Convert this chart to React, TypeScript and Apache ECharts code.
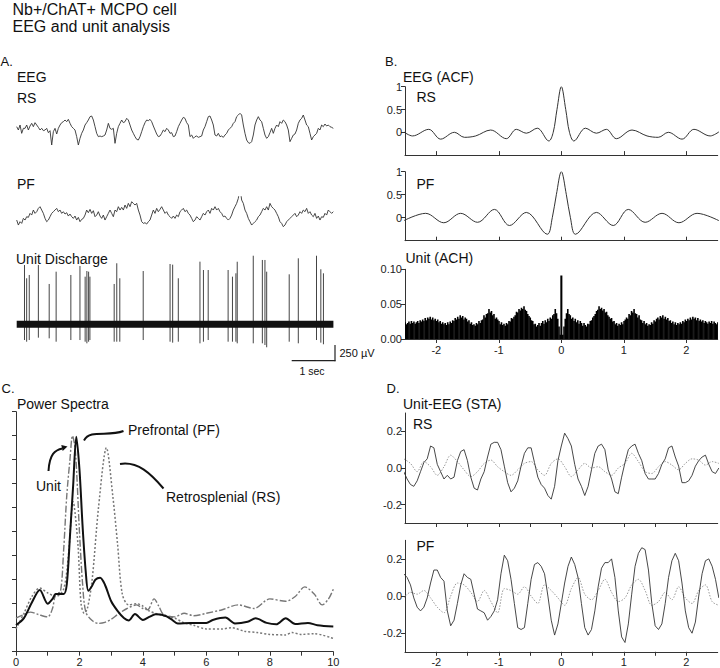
import React, { useEffect, useRef } from "react";
import * as echarts from "echarts";

const FONT = "'Liberation Sans', Arial, sans-serif";

// ---------- Panel A : raw traces ----------
const eegDt = 1 / 26; // seconds per sample
const eegRs = [
  10, 0, 15, -10, 5, 5, 15, 0, 12, 20,
  10, 22, 15, 8, 0, 5, -2, 0, 5, -8,
  -2, -45, -5, 5, -12, 5, 15, 22, 25, 30,
  25, 32, 20, 10, 5, 0, -20, -45, -25, -10,
  0, 15, 22, 30, 40, 42, 30, 10, -10, -20,
  -18, -20, -18, -15, 0, 20, 5, 2, 5, -40,
  -10, 10, 20, 30, 22, 25, 35, 30, 15, 0,
  -10, -20, -28, -30, -20, -5, 10, 22, 30, 28,
  32, 25, 12, 0, -12, -20, -18, -10, 0, -5,
  5, 0, -10, -8, -20, -18, -5, 10, 20, 30,
  38, 35, 22, 15, -20, -15, -25, -20, -18, -22,
  -20, -18, 0, 10, 25, 40, 42, 30, 15, -15,
  -18, -10, -20, -18, -22, -15, -10, 0, 5, 10,
  20, 25, 40, 45, 50, 45, 15, -10, -30, -38,
  -40, -35, -15, 15, 30, 40, 30, 25, 5, -15,
  -25, -20, -8, 5, -10, 5, 15, 10, 25, 20,
  30, 25, 15, 0, -35, -25, -15, -12, 0, 20,
  30, 35, 45, 30, 15, 10, -10, -30, -20, -15,
  -10, 5, 0, 15, 10, 18, 12, 15, 10, 8,
  5,
];
const eegPf = [
  -10, -25, -15, -20, -5, -10, 0, -2, 10, 5,
  20, 10, 15, 25, 30, 20, 10, -5, -15, -10,
  0, 10, 15, 20, 25, 15, 20, 10, 15, 8,
  12, 2, 8, 0, -5, 2, -10, -2, -15, -8,
  -5, 5, 20, 12, 22, 10, 18, 0, 5, 15,
  2, -5, 5, -10, 0, 10, 20, 10, 0, 20,
  15, 30, 20, 28, 20, 35, 25, 40, 30, 45,
  40, 35, 40, 20, 5, -15, -20, -18, -22, -15,
  -10, 5, 20, 10, 25, 15, 22, 30, 20, 10,
  15, 5, 0, -5, 2, -5, 5, 0, 15, 20,
  25, 15, 20, 10, 5, -5, -15, -10, 0, -5,
  -10, 0, 10, 5, 15, 20, 10, 25, 20, 30,
  20, 25, 15, 10, 0, 2, -5, -10, -5, 5,
  20, 30, 40, 55, 88, 50, 40, 20, 10, -5,
  -15, -25, -20, -15, -10, 0, 5, 15, 25, 20,
  30, 20, 40, 30, 25, 20, 10, 0, -15, -20,
  -30, -25, -15, -10, -5, 0, 5, 10, 0, 5,
  15, 10, 20, 15, 25, 10, 15, 5, 0, 10,
  -5, 2, -10, 0, -2, 10, 5, 20, 15, 10,
  15,
];
const spikeTimes = [0.18, 0.23, 0.29, 0.5, 0.75, 0.91, 1.25, 1.46, 1.58, 1.62, 1.66, 1.69, 2.25, 2.31, 2.38, 2.92, 3.54, 3.6, 3.73, 4.23, 4.31, 4.42, 4.88, 4.98, 5.06, 5.09, 5.46, 5.67, 5.73, 5.77, 6.29, 6.5, 6.92, 7.02, 7.08];
const spikePeaks = [988, 767, 822, 988, 672, 877, 822, 972, 794, 888, 877, 794, 672, 1017, 767, 888, 1005, 994, 767, 1044, 905, 905, 905, 794, 850, 1043, 1143, 1072, 1072, 877, 833, 1100, 1143, 917, 850];
const spikeTroughs = [-262, -290, -262, -223, -234, -290, -262, -262, -290, -317, -290, -262, -290, -290, -290, -262, -290, -306, -290, -317, -290, -262, -290, -290, -290, -317, -317, -317, -345, -383, -290, -317, -262, -306, -333];
const unitTraceEnds = [0, 7.31];

// ---------- Panel B : ACF / ACH ----------
const acfRsLags = [0, 0.07, 0.13, 0.2, 0.385, 0.56, 0.72, 0.88, 1.13, 1.37, 1.55, 1.71, 1.93, 2.12, 2.38, 2.52];
const acfRsVals = [1, 0.5, 0, -0.19, 0.09, -0.02, 0.065, -0.14, 0.05, -0.08, -0.11, 0, -0.15, 0.065, -0.08, 0.01];
const acfPfLags = [0, 0.08, 0.145, 0.225, 0.56, 0.83, 1.07, 1.34, 1.61, 1.88, 2.17, 2.52];
const acfPfVals = [1, 0.5, 0, -0.36, 0.115, -0.17, 0.18, -0.1, 0.095, -0.11, 0.095, -0.065];
const achBin = 0.02;
const achCenter = 0.091;
const achRight = [
  0.006, 0.018, 0.029, 0.037, 0.043, 0.036, 0.034, 0.029, 0.031, 0.026,
  0.029, 0.024, 0.027, 0.022, 0.026, 0.023, 0.019, 0.023, 0.02, 0.018,
  0.022, 0.021, 0.026, 0.027, 0.031, 0.033, 0.036, 0.04, 0.042, 0.047,
  0.043, 0.045, 0.041, 0.043, 0.038, 0.039, 0.034, 0.032, 0.029, 0.03,
  0.025, 0.026, 0.021, 0.023, 0.019, 0.022, 0.02, 0.024, 0.021, 0.026,
  0.028, 0.031, 0.029, 0.036, 0.034, 0.04, 0.038, 0.043, 0.037, 0.036,
  0.031, 0.034, 0.028, 0.027, 0.023, 0.026, 0.021, 0.023, 0.019, 0.021,
  0.02, 0.024, 0.022, 0.027, 0.025, 0.029, 0.031, 0.028, 0.033, 0.031,
  0.034, 0.029, 0.032, 0.028, 0.03, 0.026, 0.027, 0.023, 0.025, 0.021,
  0.024, 0.02, 0.023, 0.021, 0.024, 0.022, 0.026, 0.024, 0.028, 0.026,
  0.029, 0.027, 0.031, 0.028, 0.032, 0.029, 0.031, 0.027, 0.03, 0.026,
  0.028, 0.025, 0.027, 0.023, 0.026, 0.024, 0.022, 0.025, 0.023, 0.026,
  0.022, 0.025, 0.023, 0.021, 0.024,
];

// ---------- Panel C : power spectra ----------
const psPfFreq = [0, 0.25, 0.5, 0.75, 1.0, 1.15, 1.25, 1.5, 1.6, 1.7, 1.8, 1.9, 2.0, 2.1, 2.2, 2.28, 2.4, 2.5, 2.65, 2.8, 3.0, 3.2, 3.4, 3.55, 3.75, 4.0, 4.2, 4.4, 4.7, 4.9, 5.1, 5.5, 6.0, 6.2, 6.6, 6.9, 7.3, 7.55, 7.9, 8.2, 8.5, 8.8, 9.2, 9.5, 10];
const psPfVal = [1.11, 1.4, 2.05, 2.57, 2.0, 2.2, 2.4, 2.4, 2.8, 4.8, 6.9, 8.96, 7.6, 5.2, 3.3, 2.54, 2.75, 3.0, 3.08, 2.8, 2.1, 1.7, 1.4, 1.3, 1.57, 1.32, 1.45, 1.56, 1.5, 1.35, 1.18, 1.2, 1.2, 1.32, 1.42, 1.18, 1.25, 1.39, 1.2, 1.14, 1.39, 1.15, 1.2, 1.1, 1.05];
const psRsFreq = [0, 0.25, 0.5, 0.75, 1.0, 1.25, 1.5, 1.65, 1.8, 1.95, 2.05, 2.15, 2.25, 2.4, 2.6, 2.85, 3.05, 3.2, 3.35, 3.55, 3.8, 4.0, 4.2, 4.5, 4.8, 5.0, 5.3, 5.6, 6.0, 6.5, 6.8, 7.2, 7.6, 8.0, 8.5, 8.7, 9.0, 9.4, 10];
const psRsVal = [0.95, 1.6, 2.3, 2.65, 2.45, 2.3, 2.6, 4.0, 6.25, 4.5, 2.0, 1.6, 1.8, 3.0, 6.0, 8.5, 6.5, 4.5, 2.4, 1.95, 2.0, 1.9, 1.7, 1.55, 1.45, 1.4, 1.2, 1.1, 0.95, 0.95, 1.0, 0.85, 0.8, 0.72, 0.7, 0.8, 0.72, 0.75, 0.55];
const psUnitFreq = [0, 0.25, 0.45, 0.7, 1.0, 1.15, 1.25, 1.4, 1.5, 1.6, 1.7, 1.78, 1.87, 2.0, 2.1, 2.2, 2.4, 2.6, 2.8, 3.0, 3.2, 3.5, 3.8, 4.0, 4.15, 4.35, 4.5, 4.65, 5.0, 5.3, 5.6, 6.0, 6.5, 7.0, 7.5, 8.0, 8.5, 8.8, 9.1, 9.4, 9.65, 9.85, 10];
const psUnitVal = [1.4, 1.55, 1.65, 1.55, 1.45, 1.8, 2.4, 2.5, 4.2, 6.5, 8.0, 9.0, 8.4, 5.0, 2.8, 1.65, 1.3, 1.18, 1.22, 1.35, 1.55, 1.8, 1.95, 1.8, 1.75, 2.2, 1.9, 1.55, 1.45, 1.6, 1.5, 1.6, 1.75, 1.95, 1.8, 2.2, 2.1, 2.3, 2.7, 2.4, 1.95, 2.2, 2.6];

// ---------- Panel D : spike-triggered averages ----------
const staStart = -2.52;
const staStep = 0.0536;
const staRsUnit = [
  -0.02, -0.06, -0.09, -0.1, -0.07, -0.02, 0.03, 0.05, 0.12, 0.11,
  0.02, -0.02, -0.06, -0.04, -0.06, -0.05, 0.04, 0.09, 0.1, 0.04,
  -0.05, -0.11, -0.12, -0.06, -0.02, 0.06, 0.13, 0.14, 0.14, 0.1,
  0.01, -0.08, -0.13, -0.11, -0.07, 0.01, 0.08, 0.11, 0.11, 0.03,
  -0.05, -0.09, -0.11, -0.15, -0.17, -0.1, 0.04, 0.12, 0.19, 0.16,
  0.12, 0.02, -0.06, -0.1, -0.15, -0.1, -0.01, 0.08, 0.12, 0.13,
  0.1, -0.01, -0.06, -0.13, -0.14, -0.05, 0.03, 0.1, 0.12, 0.13,
  0.08, 0.04, -0.03, -0.06, -0.06, -0.06, -0.03, 0.02, 0.05, 0.11,
  0.12, 0.06, 0.01, -0.08, -0.08, -0.07, -0.04, 0.01, 0.04, 0.06,
  0.07, 0.02, -0.02, -0.03, 0.0,
];
const staRsCtrl = [0.05, 0.025, -0.02, 0.035, 0.007, -0.04, 0.007, 0.07, 0.035, -0.01, -0.047, -0.02, 0.025, 0.043, 0.007, -0.02, -0.04, -0.01, 0.025, 0.035, -0.01, -0.04, 0.025, 0.05, 0.007, -0.047, -0.01, 0.025, 0, 0.007, -0.02, -0.04, 0, 0.025, 0.08, 0.035, -0.02, -0.03, 0.007, 0.035, 0.016, -0.01, 0.025, 0.05, 0.043, 0.016, 0.035, 0.025];
const staPfUnit = [
  0.12, 0.1, 0.06, -0.01, -0.06, -0.08, -0.06, -0.01, 0.07, 0.14,
  0.14, 0.1, 0.08, -0.08, -0.16, -0.13, -0.04, 0.06, 0.12, 0.1,
  0.09, 0.01, -0.07, -0.08, -0.09, -0.13, -0.11, -0.08, -0.02, 0.12,
  0.22, 0.19, 0.09, -0.04, -0.17, -0.18, -0.17, -0.04, 0.09, 0.17,
  0.18, 0.16, 0.12, 0.0, -0.13, -0.21, -0.15, -0.04, 0.07, 0.16,
  0.21, 0.17, 0.1, -0.04, -0.17, -0.21, -0.18, -0.08, 0.05, 0.15,
  0.18, 0.18, 0.2, 0.1, -0.08, -0.22, -0.25, -0.15, 0.01, 0.16,
  0.23, 0.26, 0.25, 0.14, -0.04, -0.16, -0.18, -0.15, -0.04, 0.1,
  0.19, 0.23, 0.19, 0.07, -0.08, -0.17, -0.2, -0.14, 0.0, 0.12,
  0.19, 0.2, 0.16, 0.09, -0.01,
];
const staPfCtrl = [-0.01, 0.02, 0.01, 0.03, -0.01, -0.06, -0.09, 0.0, 0.07, 0.06, 0.02, -0.03, 0.03, -0.03, -0.09, 0.04, 0.03, 0.01, 0.05, 0.0, -0.04, 0.06, 0.03, -0.01, -0.05, 0.04, 0.1, 0.01, -0.02, 0.03, 0.09, 0.02, -0.03, -0.01, 0.06, 0.09, 0.03, -0.05, -0.03, 0.02, -0.02, 0.05, -0.01, -0.04, 0.03, 0.06, -0.03, -0.05];

// ---------- helpers ----------
const mirror = (lags: number[], vals: number[]) => {
  const out: number[][] = [];
  for (let i = lags.length - 1; i > 0; i--) out.push([-lags[i], vals[i]]);
  for (let i = 0; i < lags.length; i++) out.push([lags[i], vals[i]]);
  return out;
};
const pairs = (xs: number[], ys: number[]) => xs.map((x, i) => [x, ys[i]]);
const regular = (start: number, step: number, ys: number[]) => ys.map((y, i) => [start + i * step, y]);

const AX = "#333";
const lbl = { fontFamily: FONT, fontSize: 11, color: "#222" };

const hiddenX = (g: number, min: number, max: number) => ({ gridIndex: g, type: "value", min, max, show: false });
const hiddenY = (g: number, min: number, max: number) => ({ gridIndex: g, type: "value", min, max, show: false });

const lagX = (g: number, ticks: number[], labels: number[] | null, inside: boolean) => ({
  gridIndex: g,
  type: "value",
  min: -2.5,
  max: 2.5,
  axisLine: { show: true, onZero: false, lineStyle: { color: AX, width: 1 } },
  axisTick: { show: true, inside, length: 4, customValues: ticks, lineStyle: { color: AX } },
  axisLabel: labels ? { ...lbl, customValues: labels, margin: 5, formatter: (v: number) => String(v) } : { show: false },
  splitLine: { show: false },
});
const valY = (g: number, min: number, max: number, ticks: number[], fmt: (v: number) => string) => ({
  gridIndex: g,
  type: "value",
  min,
  max,
  axisLine: { show: true, onZero: false, lineStyle: { color: AX, width: 1 } },
  axisTick: { show: true, length: 4, customValues: ticks, lineStyle: { color: AX } },
  axisLabel: { ...lbl, customValues: ticks, margin: 3, formatter: fmt },
  splitLine: { show: false },
});

const txt = (text: string, x: number, y: number, size = 14, align = "left") => ({
  type: "text",
  x,
  y,
  silent: true,
  style: { text, font: `${size}px ${FONT}`, fill: "#111", textAlign: align, textVerticalAlign: "middle" },
});

export default function App() {
  const ref = useRef<HTMLDivElement>(null);
  useEffect(() => {
    document.body.style.margin = "0";
    if (!ref.current) return;
    const chart = echarts.init(ref.current, null, { renderer: "svg" });

    const achData: number[][] = [];
    for (let k = achRight.length; k >= 1; k--) achData.push([-k * achBin, achRight[k - 1]]);
    achData.push([0, achCenter]);
    for (let k = 1; k <= achRight.length; k++) achData.push([k * achBin, achRight[k - 1]]);

    const halfTicks = [-2, -1.5, -1, -0.5, 0, 0.5, 1, 1.5, 2];
    const unitTicks = [-2, -1, 0, 1, 2];

    const option: any = {
      animation: false,
      grid: [
        { left: 16.7, top: 110, width: 316.7, height: 40 },
        { left: 16.7, top: 196.7, width: 316.7, height: 40 },
        { left: 16.7, top: 252.3, width: 316.7, height: 102 },
        { left: 405, top: 86.7, width: 312.7, height: 68.4 },
        { left: 405, top: 171.7, width: 312.7, height: 69 },
        { left: 405, top: 269.3, width: 312.7, height: 69.7 },
        { left: 16, top: 411.7, width: 317.3, height: 240 },
        { left: 405, top: 413, width: 312.7, height: 110 },
        { left: 405, top: 540.3, width: 312.7, height: 111.5 },
      ],
      xAxis: [
        hiddenX(0, 0, 7.31),
        hiddenX(1, 0, 7.31),
        hiddenX(2, 0, 7.31),
        lagX(3, unitTicks, null, true),
        lagX(4, unitTicks, null, true),
        lagX(5, unitTicks, unitTicks, false),
        {
          gridIndex: 6,
          type: "value",
          min: 0,
          max: 10,
          interval: 1,
          axisLine: { show: true, onZero: false, lineStyle: { color: AX, width: 1 } },
          axisTick: { show: true, length: 4, lineStyle: { color: AX } },
          axisLabel: { ...lbl, customValues: [0, 2, 4, 6, 8, 10], margin: 5 },
          splitLine: { show: false },
        },
        lagX(7, halfTicks, null, false),
        lagX(8, halfTicks, unitTicks, false),
      ],
      yAxis: [
        hiddenY(0, -60, 60),
        hiddenY(1, -60, 60),
        hiddenY(2, -500, 1200),
        valY(3, -0.5, 1, [0, 0.5, 1], (v) => String(v)),
        valY(4, -0.5, 1, [0, 0.5, 1], (v) => String(v)),
        valY(5, 0, 0.1, [0, 0.05, 0.1], (v) => v.toFixed(2)),
        {
          gridIndex: 6,
          type: "value",
          min: 0,
          max: 10,
          interval: 1,
          axisLine: { show: true, onZero: false, lineStyle: { color: AX, width: 1 } },
          axisTick: { show: true, length: 4, lineStyle: { color: AX } },
          axisLabel: { show: false },
          splitLine: { show: false },
        },
        valY(7, -0.3, 0.3, [-0.2, 0, 0.2], (v) => v.toFixed(1)),
        valY(8, -0.3, 0.3, [-0.2, 0, 0.2], (v) => v.toFixed(1)),
      ],
      series: [
        // Panel A
        {
          type: "line", xAxisIndex: 0, yAxisIndex: 0, silent: true, showSymbol: false,
          data: eegRs.map((v, i) => [i * eegDt, v]),
          lineStyle: { color: "#333", width: 0.9 },
        },
        {
          type: "line", xAxisIndex: 1, yAxisIndex: 1, silent: true, showSymbol: false,
          data: eegPf.map((v, i) => [i * eegDt, v]),
          lineStyle: { color: "#333", width: 0.9 },
        },
        {
          type: "line", xAxisIndex: 2, yAxisIndex: 2, silent: true, showSymbol: false,
          data: unitTraceEnds.map((t) => [t, 0]),
          lineStyle: { color: "#111", width: 7 },
        },
        {
          type: "custom", xAxisIndex: 2, yAxisIndex: 2, silent: true,
          coordinateSystem: "cartesian2d",
          encode: { x: 0, y: [1, 2] },
          data: spikeTimes.map((t, i) => [t, spikeTroughs[i], spikePeaks[i]]),
          renderItem: (_p: any, api: any) => {
            const a = api.coord([api.value(0), api.value(1)]);
            const b = api.coord([api.value(0), api.value(2)]);
            return { type: "line", shape: { x1: a[0], y1: a[1], x2: b[0], y2: b[1] }, style: { stroke: "#444", lineWidth: 1 } };
          },
        },
        // Panel B
        {
          type: "line", xAxisIndex: 3, yAxisIndex: 3, silent: true, showSymbol: false, smooth: 0.35,
          data: mirror(acfRsLags, acfRsVals),
          lineStyle: { color: "#333", width: 1 },
        },
        {
          type: "line", xAxisIndex: 4, yAxisIndex: 4, silent: true, showSymbol: false, smooth: 0.35,
          data: mirror(acfPfLags, acfPfVals),
          lineStyle: { color: "#333", width: 1 },
        },
        {
          type: "custom", xAxisIndex: 5, yAxisIndex: 5, silent: true, clip: true,
          coordinateSystem: "cartesian2d",
          encode: { x: 0, y: 1 },
          data: achData,
          renderItem: (_p: any, api: any) => {
            const x = api.value(0);
            const a = api.coord([x - achBin / 2, api.value(1)]);
            const b = api.coord([x + achBin / 2, 0]);
            const extra = x === 0 ? 0.8 : 0.35;
            return { type: "rect", shape: { x: a[0] - (x === 0 ? 0.4 : 0), y: a[1], width: b[0] - a[0] + extra, height: b[1] - a[1] }, style: { fill: "#000" } };
          },
        },
        // Panel C
        {
          type: "line", xAxisIndex: 6, yAxisIndex: 6, silent: true, showSymbol: false, smooth: 0.3,
          data: pairs(psUnitFreq, psUnitVal),
          lineStyle: { color: "#777", width: 1.4, type: [7, 2, 2, 2] },
        },
        {
          type: "line", xAxisIndex: 6, yAxisIndex: 6, silent: true, showSymbol: false, smooth: 0.3,
          data: pairs(psRsFreq, psRsVal),
          lineStyle: { color: "#777", width: 1.5, type: [2, 2] },
        },
        {
          type: "line", xAxisIndex: 6, yAxisIndex: 6, silent: true, showSymbol: false, smooth: 0.3,
          data: pairs(psPfFreq, psPfVal),
          lineStyle: { color: "#111", width: 2 },
        },
        // Panel D
        {
          type: "line", xAxisIndex: 7, yAxisIndex: 7, silent: true, showSymbol: false, smooth: 0.3,
          data: regular(staStart, staStep * 2, staRsCtrl),
          lineStyle: { color: "#999", width: 1, type: [1.5, 1.5] },
        },
        {
          type: "line", xAxisIndex: 7, yAxisIndex: 7, silent: true, showSymbol: false,
          data: regular(staStart, staStep, staRsUnit),
          lineStyle: { color: "#333", width: 0.9 },
        },
        {
          type: "line", xAxisIndex: 8, yAxisIndex: 8, silent: true, showSymbol: false, smooth: 0.3,
          data: regular(staStart, staStep * 2, staPfCtrl),
          lineStyle: { color: "#999", width: 1, type: [1.5, 1.5] },
        },
        {
          type: "line", xAxisIndex: 8, yAxisIndex: 8, silent: true, showSymbol: false,
          data: regular(staStart, staStep, staPfUnit),
          lineStyle: { color: "#333", width: 0.9 },
        },
      ],
      graphic: [
        txt("Nb+/ChAT+ MCPO cell", 12.5, 9, 16),
        txt("EEG and unit analysis", 12.5, 26.5, 16),
        txt("A.", 0.5, 61, 13),
        txt("EEG", 17, 76.5),
        txt("RS", 17, 97.5),
        txt("PF", 17, 184),
        txt("Unit Discharge", 16, 258.5),
        txt("B.", 385, 61, 13),
        txt("EEG (ACF)", 403, 77),
        txt("RS", 416.5, 96.5),
        txt("PF", 416.5, 183.5),
        txt("Unit (ACH)", 405.5, 258),
        txt("C.", 1.5, 388, 13),
        txt("Power Spectra", 17, 403.5),
        txt("Prefrontal (PF)", 128, 429.5),
        txt("Unit", 36, 485.5),
        txt("Retrosplenial (RS)", 166, 496.5),
        txt("D.", 386.5, 388, 13),
        txt("Unit-EEG (STA)", 403, 404),
        txt("RS", 413, 423.5),
        txt("PF", 416.5, 545.5),
        // scale bar
        { type: "line", silent: true, shape: { x1: 291.7, y1: 360.7, x2: 335.5, y2: 360.7 }, style: { stroke: "#222", lineWidth: 1.2 } },
        { type: "line", silent: true, shape: { x1: 335, y1: 345, x2: 335, y2: 361.2 }, style: { stroke: "#222", lineWidth: 1.2 } },
        txt("250 \u00B5V", 339.5, 353, 11),
        txt("1 sec", 312, 370.5, 10.5, "center"),
        // annotation connectors in panel C
        { type: "bezierCurve", silent: true, shape: { x1: 84, y1: 440.5, cpx1: 90, cpy1: 429, cpx2: 108, cpy2: 437, x2: 123.5, y2: 431 }, style: { stroke: "#111", lineWidth: 2, fill: "none" } },
        { type: "bezierCurve", silent: true, shape: { x1: 48.5, y1: 471, cpx1: 49.5, cpy1: 454, cpx2: 55, cpy2: 450, x2: 62.5, y2: 448.5 }, style: { stroke: "#111", lineWidth: 2, fill: "none" } },
        { type: "polygon", silent: true, shape: { points: [[67.5, 446.5], [61.3, 445], [62.7, 451]] }, style: { fill: "#111" } },
        { type: "bezierCurve", silent: true, shape: { x1: 120, y1: 464, cpx1: 138, cpy1: 461, cpx2: 151, cpy2: 474, x2: 163.5, y2: 488.5 }, style: { stroke: "#111", lineWidth: 2, fill: "none" } },
      ],
    };
    chart.setOption(option);
    return () => chart.dispose();
  }, []);
  return <div ref={ref} style={{ position: "fixed", left: 0, top: 0, width: 720, height: 668, background: "#fff" }} />;
}
